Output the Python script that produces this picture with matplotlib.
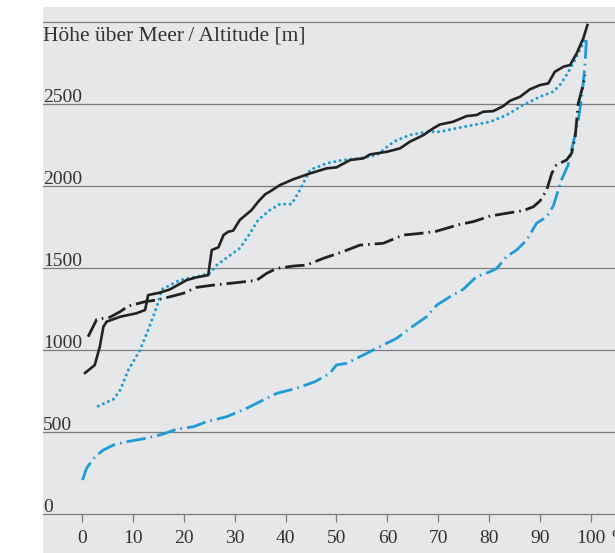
import matplotlib
matplotlib.use("Agg")
import matplotlib.pyplot as plt

# share of area [%] vs. altitude [m]
solid_black_x = [0.6, 2.5, 3.5, 4.2, 4.85, 7.5, 10.7, 12.4, 13.0, 15.3, 17.3, 20.6, 22.5, 24.8, 25.5,
                 26.8, 27.8, 28.7, 29.7, 31.0, 33.3, 34.6, 36.0, 36.9, 38.9, 41.5, 44.8, 48.1, 50.0,
                 52.7, 55.3, 56.6, 59.9, 62.5, 64.4, 67.1, 69.0, 70.3, 72.9, 75.6, 77.5, 78.8, 80.8,
                 82.8, 84.1, 86.1, 88.0, 90.0, 91.6, 92.9, 94.6, 95.9, 97.2, 98.5, 99.3]
solid_black_y = [860, 908, 1020, 1142, 1173, 1203, 1224, 1244, 1335, 1350, 1370, 1427, 1443, 1457, 1610,
                 1626, 1701, 1721, 1728, 1793, 1853, 1904, 1950, 1966, 2006, 2041, 2077, 2108, 2114,
                 2159, 2169, 2193, 2209, 2230, 2270, 2311, 2352, 2375, 2392, 2427, 2433, 2453, 2457,
                 2488, 2520, 2545, 2590, 2616, 2626, 2697, 2728, 2738, 2810, 2902, 2982]

dotted_blue_x = [3.2, 6.2, 7.5, 9.1, 11.4, 13.0, 14.7, 15.7, 19.3, 22.5, 25.1, 26.5, 28.7, 31.0, 33.0,
                 34.6, 36.9, 38.9, 41.2, 42.8, 44.8, 48.1, 51.3, 54.6, 57.9, 61.2, 64.4, 67.7, 70.3,
                 74.3, 80.2, 83.4, 86.7, 90.0, 92.6, 93.9, 95.2, 96.5, 97.8, 98.6, 99.0]
dotted_blue_y = [658, 700, 756, 878, 1000, 1122, 1264, 1370, 1427, 1447, 1468, 1518, 1569, 1620, 1711,
                 1793, 1853, 1890, 1890, 1976, 2098, 2139, 2159, 2169, 2189, 2270, 2311, 2331, 2331,
                 2357, 2392, 2433, 2494, 2545, 2576, 2616, 2677, 2748, 2829, 2880, 2910]

dashdot_black_x = [1.2, 2.9, 5.5, 7.5, 9.1, 10.7, 12.4, 14.7, 17.3, 19.9, 22.5, 25.8, 30.4, 34.3, 36.3,
                   38.3, 41.5, 44.1, 47.4, 51.3, 54.6, 59.2, 63.1, 66.4, 69.7, 74.3, 76.9, 80.2, 83.4,
                   86.7, 88.7, 90.0, 91.3, 92.3, 93.2, 95.2, 96.2, 96.9, 97.5, 98.2, 98.9]
dashdot_black_y = [1081, 1187, 1200, 1234, 1268, 1281, 1295, 1305, 1325, 1346, 1382, 1396, 1411, 1425, 1468,
                   1498, 1512, 1518, 1559, 1600, 1640, 1651, 1701, 1711, 1725, 1767, 1783, 1817, 1834,
                   1850, 1874, 1910, 1976, 2078, 2128, 2159, 2200, 2301, 2504, 2586, 2677]

dashdot_blue_x = [0.1, 0.9, 2.6, 4.2, 6.2, 8.8, 12.7, 16.0, 18.6, 21.9, 24.5, 28.4, 32.4, 35.6, 38.3,
                  42.2, 45.8, 48.7, 50.0, 52.0, 55.3, 58.5, 61.8, 64.4, 67.7, 69.7, 72.3, 74.9, 77.5,
                  80.2, 81.5, 83.4, 85.4, 87.4, 89.3, 91.3, 92.6, 94.2, 95.5, 96.5, 97.5, 98.2, 98.8, 99.1]
dashdot_blue_y = [207, 279, 350, 390, 421, 441, 462, 488, 517, 532, 563, 593, 645, 695, 736,
                  767, 807, 858, 909, 919, 970, 1020, 1071, 1132, 1203, 1274, 1325, 1370, 1447,
                  1478, 1498, 1569, 1610, 1671, 1773, 1813, 1879, 2037, 2128, 2261, 2403, 2545, 2728, 2890]

x_ticks = [0, 10, 20, 30, 40, 50, 60, 70, 80, 90, 100]
y_levels = [0, 500, 1000, 1500, 2000, 2500, 3000]
y_labels = ["0", "500", "1000", "1500", "2000", "2500", ""]
title = "Höhe über Meer\u2009/\u2009Altitude [m]"

BLACK = "#222222"
BLUE = "#1f9bd7"
TEXT = "#333333"
GRID = "#7d7d7d"
DASHDOT = (0, (7, 1.8, 0.6, 1.8))

plt.rcParams["font.family"] = ["Liberation Serif", "DejaVu Serif"]

fig = plt.figure(figsize=(6.15, 5.53), dpi=100)
ax = fig.add_axes([43 / 615, 0, 572 / 615, 546 / 553])
ax.set_facecolor("#e6e7e9")
ax.set_xlim(-7.66, 104.72)
ax.set_ylim(-238, 3092)
for s in ax.spines.values():
    s.set_visible(False)
ax.set_xticks([])
ax.set_yticks([])

for lev, lab in zip(y_levels, y_labels):
    ax.axhline(lev, color=GRID, lw=0.9, zorder=1)
    if lab:
        ax.text(-7.6, lev + 12, lab, ha="left", va="baseline", fontsize=14, color=TEXT)
ax.text(-7.6, 2890, title, ha="left", va="baseline", fontsize=15.5, color=TEXT)

ax.vlines(x_ticks, -50, 0, color=GRID, lw=0.9)
for t in x_ticks:
    ax.text(t, -175, str(t), ha="center", va="baseline", fontsize=14, color=TEXT)
# the unit sign sits right at the border and is cut, as in the printed figure
ax.text(104.0, -175, "%", ha="left", va="baseline", fontsize=14, color=TEXT, clip_on=False)

ax.plot(dashdot_blue_x, dashdot_blue_y, color=BLUE, lw=2.0, linestyle=DASHDOT, zorder=3)
ax.plot(dashdot_black_x, dashdot_black_y, color=BLACK, lw=2.0, linestyle=DASHDOT, zorder=3)
ax.plot(dotted_blue_x, dotted_blue_y, color=BLUE, lw=2.2,
        linestyle=(0, (0.01, 1.8)), dash_capstyle="round", zorder=3)
ax.plot(solid_black_x, solid_black_y, color=BLACK, lw=1.9, zorder=4)

fig.savefig("out.png", dpi=100)
